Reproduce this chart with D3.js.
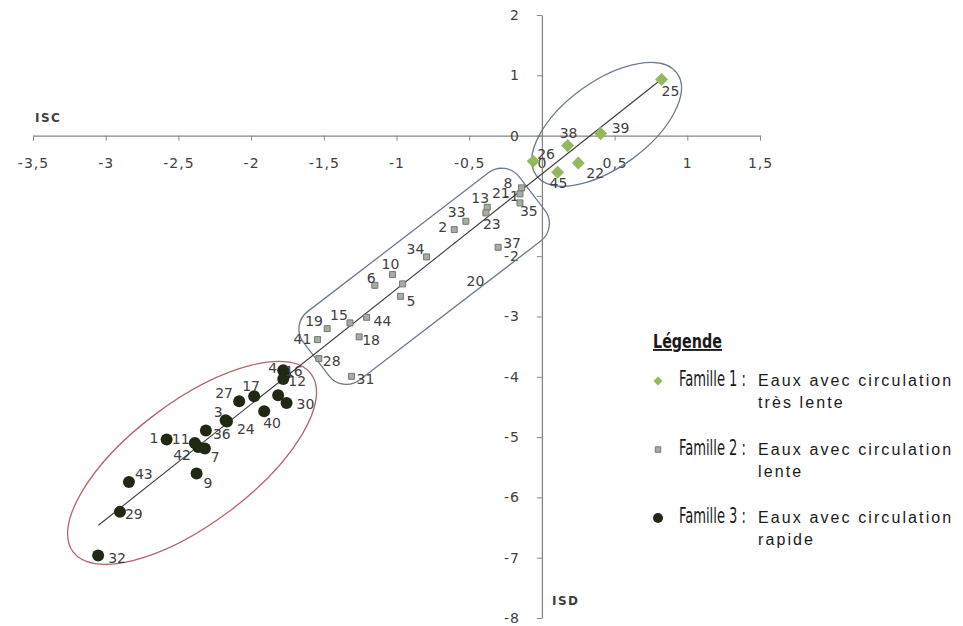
<!DOCTYPE html>
<html>
<head>
<meta charset="utf-8">
<script src="https://cdn.jsdelivr.net/npm/d3@7"></script>
<style>
  body { margin: 0; background: #fff; }
  svg { display: block; }
</style>
</head>
<body>
<div class="chart-container"></div>
<script>
//! DATA
// Famille 1 : eaux avec circulation très lente
const fam1Ids = ['25', '39', '38', '22', '45', '26']
const fam1ISC = [0.823, 0.404, 0.177, 0.250, 0.108, -0.060]
const fam1ISD = [0.929, 0.033, -0.166, -0.453, -0.609, -0.426]

// Famille 2 : eaux avec circulation lente
const fam2Ids = ['8', '21', '35', '13', '23', '33', '2', '37', '34', '10', '6', '20', '5', '44', '15', '19', '18', '41', '28', '31']
const fam2ISC = [-0.140, -0.151, -0.151, -0.376, -0.385, -0.523, -0.603, -0.301, -0.793, -1.027, -1.149, -0.958, -0.972, -1.206, -1.320, -1.477, -1.257, -1.543, -1.534, -1.309]
const fam2ISD = [-0.867, -0.967, -1.116, -1.189, -1.282, -1.421, -1.559, -1.852, -2.012, -2.305, -2.483, -2.459, -2.665, -3.013, -3.106, -3.201, -3.338, -3.383, -3.698, -3.992]

// Famille 3 : eaux avec circulation rapide
const fam3Ids = ['4', '16', '12', '17', '27', '', '30', '40', '3', '24', '36', '1', '11', '42', '7', '43', '9', '29', '32']
const fam3ISC = [-1.779, -1.768, -1.779, -1.979, -2.082, -1.814, -1.756, -1.910, -2.175, -2.166, -2.311, -2.581, -2.387, -2.364, -2.318, -2.840, -2.375, -2.902, -3.052]
const fam3ISD = [-3.892, -3.963, -4.035, -4.323, -4.406, -4.307, -4.433, -4.572, -4.721, -4.743, -4.892, -5.041, -5.096, -5.163, -5.191, -5.743, -5.605, -6.240, -6.965]

// droite de tendance
const trendSlope = 1.91
const trendIntercept = -0.636
const trendISC = [-3.05, 0.82]

// axes
const xTicks = [-3.5, -3, -2.5, -2, -1.5, -1, -0.5, 0, 0.5, 1, 1.5]
const yTicks = [2, 1, 0, -1, -2, -3, -4, -5, -6, -7, -8]

// légende
const legendTitle = 'Légende'
const legendFamilies = ['Famille 1 :', 'Famille 2 :', 'Famille 3 :']
const legendLine1 = ['Eaux avec circulation', 'Eaux avec circulation', 'Eaux avec circulation']
const legendLine2 = ['très lente', 'lente', 'rapide']

//! LAYOUT
const width = 963
const height = 626

// label offsets (px) relative to the marker
const labelNudge = {
  25: [0, 11], 39: [11, -6], 38: [-8, -13], 22: [8, 10], 45: [-8, 11], 26: [4, -7],
  8: [-18, -5], 21: [-28, -1], 35: [0, 8], 13: [-16, -9], 23: [-3, 11], 33: [-18, -9],
  2: [-16, -3], 37: [5, -4], 34: [-20, -8], 10: [-11, -11], 6: [-8, -7], 20: [64, -3],
  5: [6, 5], 44: [7, 4], 15: [-20, -8], 19: [-22, -8], 18: [3, 3], 41: [-24, -1],
  28: [4, 2], 31: [5, 3],
  4: [-15, -2], 16: [0, -4], 12: [5, 2], 17: [-12, -10], 27: [-24, -8], 30: [10, 1],
  40: [-1, 12], 3: [-12, -8], 24: [10, 7], 36: [7, 3], 1: [-17, -2], 11: [-23, -4],
  42: [-25, 8], 7: [6, 8], 43: [6, -8], 9: [7, 9], 29: [5, 2], 32: [10, 2]
}

// group outlines (centre in data units, size in px)
const outlines = [
  { shape: 'ellipse', cx: 0.445, cy: 0.187, rx: 87, ry: 43, angle: -36, color: '#6a7b90' },
  { shape: 'rect', cx: -0.81, cy: -2.334, w: 272, h: 86, angle: -37.5, r: 22, color: '#6a7b90' },
  { shape: 'ellipse', cx: -2.406, cy: -5.429, rx: 148.6, ry: 61, angle: -36.8, color: '#b5646b' }
]

const colors = { f1: '#95b85c', f2: '#a8aaa6', f2stroke: '#6f7d6c', f3: '#1f2913' }
const textColor = '#404040'
const axisColor = '#868686'

//! SVG
const svg = d3.select('.chart-container')
  .append('svg')
  .attr('width', width)
  .attr('height', height)
  .style('background', '#fff')

//! SCALES
const x = d3.scaleLinear().domain([-3.5, 1.5]).range([33, 760])
const y = d3.scaleLinear().domain([-8, 2]).range([618, 15])

const locale = d3.formatLocale({ decimal: ',', thousands: ' ', grouping: [3], currency: ['', ''], minus: '-' })
const fmt = locale.format('~g')

//! AXES
const xAxis = d3.axisBottom(x).tickValues(xTicks).tickFormat(fmt)
  .tickSize(5).tickSizeOuter(0).tickPadding(17)
const yAxis = d3.axisLeft(y).tickValues(yTicks).tickFormat(fmt)
  .tickSize(5).tickSizeOuter(0).tickPadding(17)

const styleAxis = g => {
  g.select('.domain').attr('stroke', axisColor).attr('stroke-width', 1.3)
  g.selectAll('.tick line').attr('stroke', axisColor)
  g.selectAll('.tick text')
    .attr('fill', textColor)
    .attr('font-family', 'DejaVu Sans, sans-serif')
    .attr('font-size', 14)
    .attr('letter-spacing', 1)
}

svg.append('g')
  .attr('transform', `translate(0,${y(0)})`)
  .call(xAxis)
  .call(styleAxis)

svg.append('g')
  .attr('transform', `translate(${x(0)},0)`)
  .call(yAxis)
  .call(styleAxis)

svg.append('text')
  .attr('x', 35).attr('y', 122)
  .attr('font-family', 'DejaVu Sans, sans-serif').attr('font-weight', 'bold')
  .attr('font-size', 12).attr('letter-spacing', 1.5)
  .attr('fill', textColor)
  .text('ISC')

svg.append('text')
  .attr('x', 552).attr('y', 605)
  .attr('font-family', 'DejaVu Sans, sans-serif').attr('font-weight', 'bold')
  .attr('font-size', 12).attr('letter-spacing', 1.5)
  .attr('fill', textColor)
  .text('ISD')

//! OUTLINES
outlines.forEach(o => {
  const g = svg.append('g')
    .attr('transform', `translate(${x(o.cx)},${y(o.cy)}) rotate(${o.angle})`)
  if (o.shape === 'ellipse') {
    g.append('ellipse').attr('rx', o.rx).attr('ry', o.ry)
      .attr('fill', 'none').attr('stroke', o.color).attr('stroke-width', 1.3)
  } else {
    g.append('rect')
      .attr('x', -o.w / 2).attr('y', -o.h / 2)
      .attr('width', o.w).attr('height', o.h)
      .attr('rx', o.r).attr('ry', o.r)
      .attr('fill', 'none').attr('stroke', o.color).attr('stroke-width', 1.3)
  }
})

//! TREND LINE
svg.append('path')
  .datum(trendISC.map(v => [v, trendSlope * v + trendIntercept]))
  .attr('d', d3.line().x(d => x(d[0])).y(d => y(d[1])))
  .attr('fill', 'none')
  .attr('stroke', '#3a3a3a')
  .attr('stroke-width', 1.1)

//! POINTS
const toPoints = (ids, isc, isd, fam) => ids.map((id, i) => ({ id, isc: isc[i], isd: isd[i], fam }))
const points = [
  ...toPoints(fam2Ids, fam2ISC, fam2ISD, 2),
  ...toPoints(fam1Ids, fam1ISC, fam1ISD, 1),
  ...toPoints(fam3Ids, fam3ISC, fam3ISD, 3)
]

const drawMarker = (sel, fam) => {
  if (fam === 1) {
    sel.append('path')
      .attr('d', d3.symbol(d3.symbolSquare, 85)())
      .attr('transform', 'rotate(45)')
      .attr('fill', colors.f1)
  } else if (fam === 2) {
    sel.append('path')
      .attr('d', d3.symbol(d3.symbolSquare, 36)())
      .attr('fill', colors.f2)
      .attr('stroke', colors.f2stroke)
      .attr('stroke-width', 1)
  } else {
    sel.append('circle').attr('r', 6).attr('fill', colors.f3)
  }
}

svg.append('g')
  .selectAll('g')
  .data(points)
  .join('g')
  .attr('transform', d => `translate(${x(d.isc)},${y(d.isd)})`)
  .each(function (d) { drawMarker(d3.select(this), d.fam) })

svg.append('g')
  .selectAll('text')
  .data(points.filter(d => d.id !== ''))
  .join('text')
  .attr('x', d => x(d.isc) + (labelNudge[d.id] || [6, 0])[0])
  .attr('y', d => y(d.isd) + (labelNudge[d.id] || [6, 0])[1])
  .attr('dominant-baseline', 'central')
  .attr('font-family', 'DejaVu Sans, sans-serif')
  .attr('font-size', 14)
  .attr('fill', textColor)
  .text(d => d.id)

//! LEGEND
const legend = svg.append('g')

legend.append('text')
  .attr('x', 653).attr('y', 348)
  .attr('font-family', '"Liberation Sans Narrow", "DejaVu Sans Condensed", sans-serif')
  .attr('font-weight', 'bold')
  .attr('font-size', 19)
  .attr('textLength', 69).attr('lengthAdjust', 'spacingAndGlyphs')
  .attr('text-decoration', 'underline')
  .attr('fill', '#1a1a1a')
  .text(legendTitle)

const legendStep = 68.5
legendFamilies.forEach((label, i) => {
  const base = 386 + i * legendStep
  const m = legend.append('g').attr('transform', `translate(${658},${base - 5})`)
  if (i === 0) {
    m.append('path').attr('d', d3.symbol(d3.symbolSquare, 40)()).attr('transform', 'rotate(45)').attr('fill', colors.f1)
  } else if (i === 1) {
    m.append('path').attr('d', d3.symbol(d3.symbolSquare, 30)()).attr('fill', colors.f2).attr('stroke', colors.f2stroke)
  } else {
    m.append('circle').attr('r', 5).attr('fill', colors.f3)
  }

  legend.append('text')
    .attr('x', 679).attr('y', base)
    .attr('font-family', '"Liberation Sans Narrow", "DejaVu Sans Condensed", sans-serif')
    .attr('font-size', 21)
    .attr('textLength', 67).attr('lengthAdjust', 'spacingAndGlyphs')
    .attr('fill', '#1a1a1a')
    .text(label)

  legend.append('text')
    .attr('x', 758).attr('y', base)
    .attr('font-family', '"Liberation Sans", Arial, sans-serif')
    .attr('font-size', 16)
    .attr('letter-spacing', 2.1)
    .attr('fill', '#1a1a1a')
    .text(legendLine1[i])

  legend.append('text')
    .attr('x', 758).attr('y', base + 22)
    .attr('font-family', '"Liberation Sans", Arial, sans-serif')
    .attr('font-size', 16)
    .attr('letter-spacing', 2.1)
    .attr('fill', '#1a1a1a')
    .text(legendLine2[i])
})
</script>
</body>
</html>
